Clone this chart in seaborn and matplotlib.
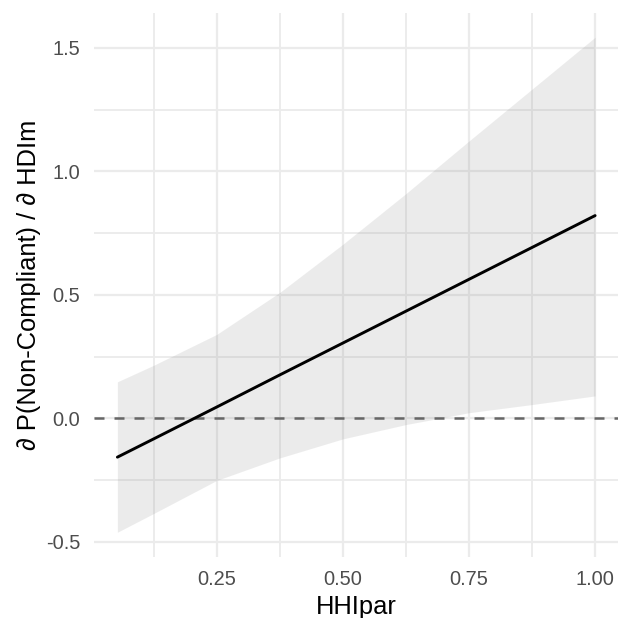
import matplotlib
matplotlib.use("Agg")
import matplotlib.pyplot as plt
import numpy as np
import pandas as pd
import seaborn as sns

# Marginal effect of HDIm on P(Non-Compliant) across HHIpar, with confidence band
hhi = [0.053, 0.125, 0.25, 0.375, 0.5, 0.625, 0.75, 0.875, 1.0]
estimate = [-0.157, -0.083, 0.046, 0.176, 0.305, 0.434, 0.563, 0.692, 0.821]
lower = [-0.461, -0.385, -0.251, -0.160, -0.083, -0.025, 0.023, 0.056, 0.091]
upper = [0.148, 0.215, 0.340, 0.510, 0.705, 0.910, 1.123, 1.333, 1.543]

x_ticks = [0.25, 0.50, 0.75, 1.00]
x_tick_labels = ["0.25", "0.50", "0.75", "1.00"]
y_ticks = [-0.5, 0.0, 0.5, 1.0, 1.5]
y_tick_labels = ["-0.5", "0.0", "0.5", "1.0", "1.5"]

df = pd.DataFrame({"HHIpar": hhi, "estimate": estimate, "lower": lower, "upper": upper})

sns.set_theme(style="white")
plt.rcParams["font.family"] = ["Liberation Sans", "DejaVu Sans"]

fig = plt.figure(figsize=(6.18, 6.18), dpi=100)
ax = fig.add_axes([93.5 / 618, 61 / 618, (619 - 93.5) / 618, (557 - 12.5) / 618])

# limits with 5% padding around the data range
xmin, xmax = min(hhi), max(hhi)
ymin, ymax = min(lower), max(upper)
xpad = 0.05 * (xmax - xmin)
ypad = 0.05 * (ymax - ymin)
ax.set_xlim(xmin - xpad, xmax + xpad)
ax.set_ylim(ymin - ypad, ymax + ypad)

# grid: major and minor lines
grid_col = "#EBEBEB"
for xv in x_ticks:
    ax.axvline(xv, color=grid_col, lw=1.6, zorder=0)
for xv in [0.125, 0.375, 0.625, 0.875]:
    ax.axvline(xv, color=grid_col, lw=1.3, zorder=0)
for yv in y_ticks:
    ax.axhline(yv, color=grid_col, lw=1.6, zorder=0)
for yv in [-0.25, 0.25, 0.75, 1.25]:
    ax.axhline(yv, color=grid_col, lw=1.3, zorder=0)

ax.fill_between(df["HHIpar"], df["lower"], df["upper"], color="#7F7F7F",
                alpha=0.15, linewidth=0, zorder=1)
ax.axhline(0, color="#666666", lw=1.8, dashes=(4, 4), zorder=2)
sns.lineplot(data=df, x="HHIpar", y="estimate", color="black", lw=2.1,
             ax=ax, zorder=3)

for s in ax.spines.values():
    s.set_visible(False)

ax.set_xticks(x_ticks)
ax.set_xticklabels(x_tick_labels)
ax.set_yticks(y_ticks)
ax.set_yticklabels(y_tick_labels)
ax.tick_params(axis="both", length=0, labelsize=14.4, labelcolor="#4D4D4D")
ax.tick_params(axis="x", pad=9.5)
ax.tick_params(axis="y", pad=9.7)

ax.set_xlabel("HHIpar", fontsize=18.4, color="black", labelpad=4)
ax.set_ylabel("∂ P(Non-Compliant) / ∂ HDIm", fontsize=18.4, color="black", labelpad=3.5)

fig.savefig("out.png", dpi=100, facecolor="white")
